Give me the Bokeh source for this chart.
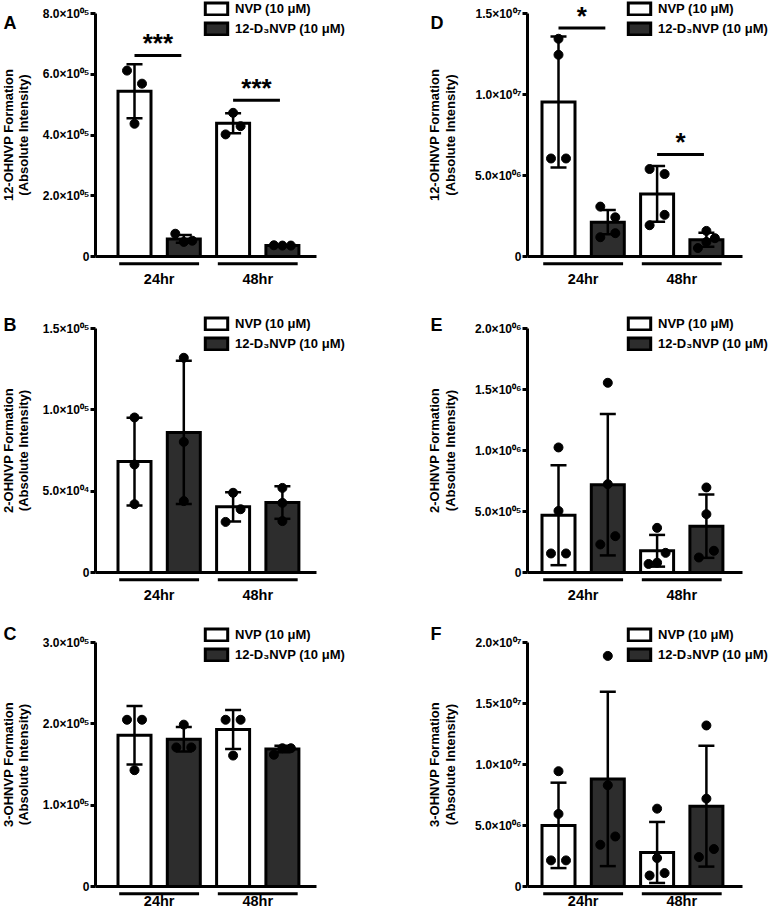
import numpy as np
from bokeh.plotting import figure
from bokeh.layouts import row, column
from bokeh.models import (ColumnDataSource, Whisker, TeeHead, Legend,
                          LegendItem, Label, FixedTicker, Range1d)
from bokeh.embed import file_html
from bokeh.resources import INLINE
from bokeh.core.properties import value

FONT = "Liberation Sans"

# ---------------- data ----------------
groups = ["24hr", "48hr"]
treatments = ["NVP (10 μM)", "12-D₃NVP (10 μM)"]
ylabel_line2 = "(Absolute Intensity)"
# bar order in every panel: NVP 24hr, 12-D3NVP 24hr, NVP 48hr, 12-D3NVP 48hr

# Panel A : 12-OHNVP (3 replicates)
A_ylabel = "12-OHNVP Formation"
A_ticks = [0, 200000, 400000, 600000, 800000]
A_tick_labels = ["0", "2.0×10⁰⁵", "4.0×10⁰⁵", "6.0×10⁰⁵", "8.0×10⁰⁵"]
A_mean = [5.44e5, 0.58e5, 4.39e5, 0.36e5]
A_sd = [0.89e5, 0.13e5, 0.33e5, 0.01e5]
A_nvp_24 = [6.12e5, 5.69e5, 4.37e5]
A_d3_24 = [0.75e5, 0.52e5, 0.48e5]
A_nvp_48 = [4.73e5, 4.29e5, 4.02e5]
A_d3_48 = [0.37e5, 0.36e5, 0.36e5]
A_sig_y = [6.62e5, 5.14e5]
A_sig = ["***", "***"]

# Panel B : 2-OHNVP (3 replicates)
B_ylabel = "2-OHNVP Formation"
B_ticks = [0, 50000, 100000, 150000]
B_tick_labels = ["0", "5.0×10⁰⁴", "1.0×10⁰⁵", "1.5×10⁰⁵"]
B_mean = [0.682e5, 0.861e5, 0.404e5, 0.430e5]
B_sd = [0.27e5, 0.44e5, 0.09e5, 0.10e5]
B_nvp_24 = [0.953e5, 0.664e5, 0.420e5]
B_d3_24 = [1.320e5, 0.803e5, 0.439e5]
B_nvp_48 = [0.490e5, 0.389e5, 0.311e5]
B_d3_48 = [0.520e5, 0.428e5, 0.316e5]

# Panel C : 3-OHNVP (3 replicates)
C_ylabel = "3-OHNVP Formation"
C_ticks = [0, 100000, 200000, 300000]
C_tick_labels = ["0", "1.0×10⁰⁵", "2.0×10⁰⁵", "3.0×10⁰⁵"]
C_mean = [1.86e5, 1.81e5, 1.93e5, 1.69e5]
C_sd = [0.36e5, 0.15e5, 0.24e5, 0.04e5]
C_nvp_24 = [2.05e5, 2.05e5, 1.43e5]
C_d3_24 = [1.99e5, 1.71e5, 1.71e5]
C_nvp_48 = [2.05e5, 2.05e5, 1.61e5]
C_d3_48 = [1.70e5, 1.70e5, 1.62e5]

# Panel D : 12-OHNVP (4 replicates)
D_ylabel = "12-OHNVP Formation"
D_ticks = [0, 5000000, 10000000, 15000000]
D_tick_labels = ["0", "5.0×10⁰⁶", "1.0×10⁰⁷", "1.5×10⁰⁷"]
D_mean = [9.54e6, 2.12e6, 3.86e6, 1.03e6]
D_sd = [4.04e6, 0.75e6, 1.72e6, 0.43e6]
D_nvp_24 = [13.44e6, 12.45e6, 6.05e6, 6.05e6]
D_d3_24 = [3.08e6, 2.42e6, 1.44e6, 1.19e6]
D_nvp_48 = [5.40e6, 5.09e6, 2.57e6, 1.93e6]
D_d3_48 = [1.58e6, 1.13e6, 0.90e6, 0.52e6]
D_sig_y = [1.41e7, 6.3e6]
D_sig = ["*", "*"]

# Panel E : 2-OHNVP (4 replicates)
E_ylabel = "2-OHNVP Formation"
E_ticks = [0, 500000, 1000000, 1500000, 2000000]
E_tick_labels = ["0", "5.0×10⁰⁵", "1.0×10⁰⁶", "1.5×10⁰⁶", "2.0×10⁰⁶"]
E_mean = [0.47e6, 0.72e6, 0.178e6, 0.38e6]
E_sd = [0.41e6, 0.58e6, 0.13e6, 0.26e6]
E_nvp_24 = [1.025e6, 0.505e6, 0.156e6, 0.156e6]
E_d3_24 = [1.555e6, 0.724e6, 0.298e6, 0.230e6]
E_nvp_48 = [0.366e6, 0.161e6, 0.080e6, 0.070e6]
E_d3_48 = [0.697e6, 0.478e6, 0.178e6, 0.123e6]

# Panel F : 3-OHNVP (4 replicates)
F_ylabel = "3-OHNVP Formation"
F_ticks = [0, 5000000, 10000000, 15000000, 20000000]
F_tick_labels = ["0", "5.0×10⁰⁶", "1.0×10⁰⁷", "1.5×10⁰⁷", "2.0×10⁰⁷"]
F_mean = [5.01e6, 8.82e6, 2.79e6, 6.58e6]
F_sd = [3.5e6, 7.15e6, 2.5e6, 4.95e6]
F_nvp_24 = [9.45e6, 5.95e6, 2.14e6, 2.14e6]
F_d3_24 = [18.9e6, 8.30e6, 4.10e6, 3.42e6]
F_nvp_48 = [6.38e6, 2.33e6, 1.10e6, 0.90e6]
F_d3_48 = [13.2e6, 7.20e6, 3.07e6, 2.41e6]

# ---------------- layout / style (canvas pixels) ----------------
SP = 49.3          # px between bar centres
BW = 33 / SP       # bar width (data units)
DARK = "#2d2d2d"
LEG_H = 34
COLS = [dict(w=420, ax=95, c0=134, xend=316, ylab=(7.5, 23), let_x=3, leg_x=202),
        dict(w=351, ax=107, c0=138, xend=322, ylab=(13.5, 29.5), let_x=10, leg_x=205)]
ROWS = [dict(h=300, top=13, zero=256, lab=22, let_y=12, leg_y=2),
        dict(h=314, top=28, zero=272, lab=22, let_y=14, leg_y=17),
        dict(h=298, top=28, zero=272, lab=14, let_y=9, leg_y=14)]


def swarm(vals, mean, k):
    """Spread replicate dots horizontally (GraphPad-like rows), offsets in data units."""
    order = sorted(range(len(vals)), key=lambda i: vals[i])
    rows_ = []
    for i in order:
        if rows_ and (vals[i] - vals[rows_[-1][0]]) * k < 14:
            rows_[-1].append(i)
        else:
            rows_.append([i])
    offs = [0.0] * len(vals)
    for r in rows_:
        n = len(r)
        if n == 1:
            continue
        step = 15.0 if n == 2 else 17.0 / (n - 1)
        r = sorted(r, key=lambda i: -abs(vals[i] - mean))
        for j, i in enumerate(r):
            offs[i] = (j - (n - 1) / 2) * step / SP
    return offs


def panel(letter, ylabel, ticks, tick_labels, mean, sd, pts, sig_y, sig, ci, ri):
    C, R = COLS[ci], ROWS[ri]
    ymax = ticks[-1]
    k = (R["zero"] - R["top"]) / ymax          # px per data unit (y)
    X = lambda px: (px - C["c0"]) / SP          # canvas px -> data x
    Y = lambda px: (R["zero"] - px) / k         # canvas px (from top) -> data y
    p = figure(width=C["w"], height=R["h"],
               x_range=Range1d(X(0), X(C["w"])), y_range=Range1d(Y(R["h"]), Y(0)),
               output_backend="svg", toolbar_location=None, title=None,
               min_border_left=0, min_border_right=0, min_border_top=0, min_border_bottom=0,
               outline_line_color=None)
    p.grid.visible = False
    xs = np.arange(4)

    rn = p.vbar(x=xs[0::2], top=np.array(mean)[0::2], width=BW, bottom=0,
                fill_color="white", line_color="black", line_width=3, line_join="miter")
    rd = p.vbar(x=xs[1::2], top=np.array(mean)[1::2], width=BW, bottom=0,
                fill_color=DARK, line_color="black", line_width=3, line_join="miter")

    wsrc = ColumnDataSource(dict(x=xs, upper=np.array(mean) + np.array(sd),
                                 lower=np.array(mean) - np.array(sd)))
    w = Whisker(source=wsrc, base="x", upper="upper", lower="lower", line_width=2.5,
                line_color="black", level="annotation",
                upper_head=TeeHead(size=16, line_width=2.5, line_color="black"),
                lower_head=TeeHead(size=16, line_width=2.5, line_color="black"))
    p.add_layout(w)

    px, py = [], []
    for i, vals in enumerate(pts):
        for o, v in zip(swarm(vals, mean[i], k), vals):
            px.append(i + o)
            py.append(v)
    p.scatter(px, py, size=9, color="black")

    # group underlines
    gc = np.array([0.5, 2.5])
    uy = -7.3 / k
    p.segment(x0=gc - 0.81, x1=gc + 0.81, y0=[uy, uy], y1=[uy, uy], line_width=3, line_color="black")

    # significance bars
    if sig_y:
        g0 = np.array([0.0, 2.0])
        p.segment(x0=g0, x1=g0 + 0.95, y0=sig_y, y1=sig_y, line_width=3, line_color="black")
        p.text(x=g0 + 0.475, y=sig_y, text=sig, text_align="center", text_baseline="bottom",
               y_offset=3, text_font=value(FONT), text_font_style="bold", text_font_size="26px",
               text_color="black")

    leg = Legend(items=[LegendItem(label=treatments[0], renderers=[rn]),
                        LegendItem(label=treatments[1], renderers=[rd])],
                 location=(C["leg_x"], R["h"] - R["leg_y"] - LEG_H),
                 padding=0, margin=0, spacing=5, glyph_width=28, glyph_height=15,
                 label_height=15, label_standoff=5, border_line_color=None,
                 background_fill_alpha=0, label_text_font=FONT, label_text_font_style="bold",
                 label_text_font_size="13px", label_text_color="black")
    p.add_layout(leg)

    # y axis (drawn at a fixed data location)
    ax = p.yaxis[0]
    ax.fixed_location = X(C["ax"])
    ax.ticker = FixedTicker(ticks=ticks)
    ax.major_label_overrides = {t: l for t, l in zip(ticks, tick_labels)}
    ax.bounds = (0, ymax)
    ax.axis_line_width = 3
    ax.axis_line_color = "black"
    ax.major_tick_line_width = 3
    ax.major_tick_line_color = "black"
    ax.major_tick_out = 5
    ax.major_tick_in = 0
    ax.minor_tick_line_color = None
    ax.major_label_text_font = FONT
    ax.major_label_text_font_style = "bold"
    ax.major_label_text_font_size = "12px"
    ax.major_label_text_color = "black"
    ax.major_label_standoff = 1

    # x axis: baseline + group labels
    xa = p.xaxis[0]
    xa.fixed_location = 0
    xa.bounds = (X(C["ax"]), X(C["xend"]))
    xa.ticker = FixedTicker(ticks=[0.5, 2.5])
    xa.major_label_overrides = {0.5: groups[0], 2.5: groups[1]}
    xa.axis_line_width = 3
    xa.axis_line_color = "black"
    xa.major_tick_line_color = None
    xa.minor_tick_line_color = None
    xa.major_tick_out = 0
    xa.major_tick_in = 0
    xa.major_label_standoff = R["lab"] - 8
    xa.major_label_text_font = FONT
    xa.major_label_text_font_style = "bold"
    xa.major_label_text_font_size = "14.5px"
    xa.major_label_text_color = "black"

    ymid = ymax / 2
    for txt, cx in zip([ylabel, ylabel_line2], C["ylab"]):
        p.add_layout(Label(x=X(cx), y=ymid, text=txt, angle=np.pi / 2,
                           text_align="center", text_baseline="middle", text_font=FONT,
                           text_font_style="bold", text_font_size="13px", text_color="black"))
    p.add_layout(Label(x=X(C["let_x"]), y=Y(R["let_y"]), text=letter,
                       text_align="left", text_baseline="top", text_font=FONT,
                       text_font_style="bold", text_font_size="18px", text_color="black"))
    return p


pA = panel("A", A_ylabel, A_ticks, A_tick_labels, A_mean, A_sd,
           [A_nvp_24, A_d3_24, A_nvp_48, A_d3_48], A_sig_y, A_sig, 0, 0)
pB = panel("B", B_ylabel, B_ticks, B_tick_labels, B_mean, B_sd,
           [B_nvp_24, B_d3_24, B_nvp_48, B_d3_48], None, None, 0, 1)
pC = panel("C", C_ylabel, C_ticks, C_tick_labels, C_mean, C_sd,
           [C_nvp_24, C_d3_24, C_nvp_48, C_d3_48], None, None, 0, 2)
pD = panel("D", D_ylabel, D_ticks, D_tick_labels, D_mean, D_sd,
           [D_nvp_24, D_d3_24, D_nvp_48, D_d3_48], D_sig_y, D_sig, 1, 0)
pE = panel("E", E_ylabel, E_ticks, E_tick_labels, E_mean, E_sd,
           [E_nvp_24, E_d3_24, E_nvp_48, E_d3_48], None, None, 1, 1)
pF = panel("F", F_ylabel, F_ticks, F_tick_labels, F_mean, F_sd,
           [F_nvp_24, F_d3_24, F_nvp_48, F_d3_48], None, None, 1, 2)

layout = column(row(pA, pD), row(pB, pE), row(pC, pF))
open("out.html", "w").write(file_html(layout, INLINE))
